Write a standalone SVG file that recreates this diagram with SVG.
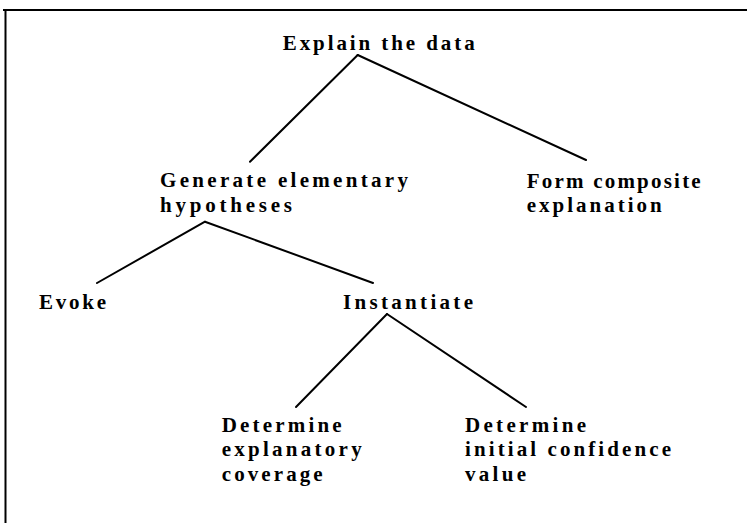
<svg xmlns="http://www.w3.org/2000/svg" width="747" height="523" viewBox="0 0 747 523">
<style>
.t{font-family:"Liberation Serif","Times New Roman",serif;font-weight:bold;font-size:21px;fill:#000}
.c line{stroke:#000;stroke-width:2;stroke-linecap:round}
.f line{stroke:#000;stroke-width:2}
</style>
<rect width="747" height="523" fill="#fff"/>
<g class="f" id="frame">
<line x1="3" y1="10" x2="747" y2="10"/>
<line x1="5.5" y1="9" x2="5.5" y2="523"/>
</g>
<g class="c" id="connectors">
<line x1="357.7" y1="55" x2="250" y2="161.7"/>
<line x1="357.7" y1="55" x2="586" y2="160"/>
<line x1="205" y1="221.7" x2="97" y2="283"/>
<line x1="205" y1="221.7" x2="373" y2="283"/>
<line x1="387" y1="314" x2="296" y2="407"/>
<line x1="387" y1="314" x2="526" y2="407"/>
</g>
<g id="n-explain"><text class="t" x="282.7" y="50" textLength="192" lengthAdjust="spacing">Explain the data</text></g>
<g id="n-generate">
<text class="t" x="160" y="187" textLength="248" lengthAdjust="spacing">Generate elementary</text>
<text class="t" x="160" y="212" textLength="132" lengthAdjust="spacing">hypotheses</text>
</g>
<g id="n-form">
<text class="t" x="526.7" y="188" textLength="174" lengthAdjust="spacing">Form composite</text>
<text class="t" x="526.7" y="212" textLength="135" lengthAdjust="spacing">explanation</text>
</g>
<g id="n-evoke"><text class="t" x="39" y="309" textLength="67" lengthAdjust="spacing">Evoke</text></g>
<g id="n-instantiate"><text class="t" x="343" y="309" textLength="130" lengthAdjust="spacing">Instantiate</text></g>
<g id="n-coverage">
<text class="t" x="221.7" y="432" textLength="120" lengthAdjust="spacing">Determine</text>
<text class="t" x="221.7" y="456" textLength="140" lengthAdjust="spacing">explanatory</text>
<text class="t" x="221.7" y="481" textLength="101" lengthAdjust="spacing">coverage</text>
</g>
<g id="n-confidence">
<text class="t" x="465" y="432" textLength="121" lengthAdjust="spacing">Determine</text>
<text class="t" x="465" y="456" textLength="206" lengthAdjust="spacing">initial confidence</text>
<text class="t" x="465" y="481" textLength="61" lengthAdjust="spacing">value</text>
</g>
</svg>
